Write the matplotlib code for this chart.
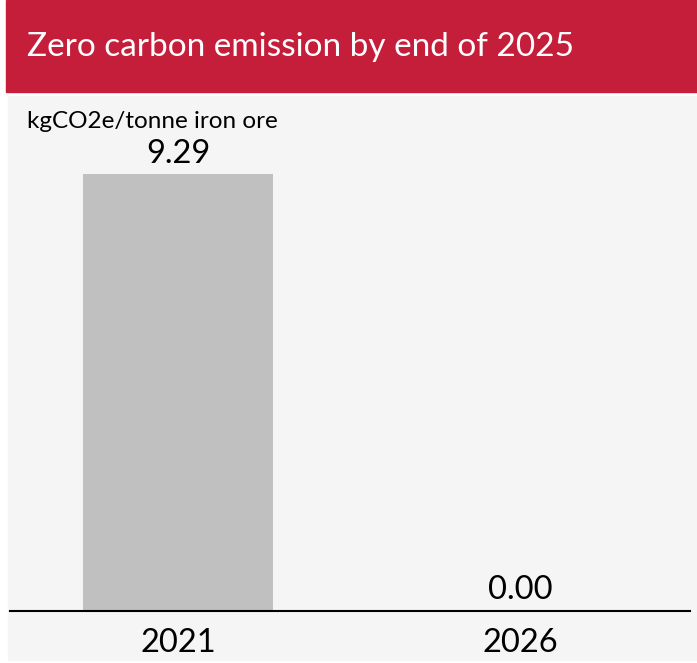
import matplotlib.pyplot as plt
from matplotlib.patches import Rectangle

plt.rcParams['font.family'] = ['Lato', 'DejaVu Sans']

years = ['2021', '2026']
values = [9.29, 0.00]
title = 'Zero carbon emission by end of 2025'
unit = 'kgCO2e/tonne iron ore'

W, H = 697, 663
fig = plt.figure(figsize=(W / 100, H / 100), dpi=100)
fig.patch.set_facecolor('white')

def fx(px):
    return px / W

def fy(py):
    return 1 - py / H

# header band and panel behind the axes
fig.patches.append(Rectangle((fx(6), fy(92)), fx(W - 6), 92 / H,
                             transform=fig.transFigure, color='#C41E3A', zorder=-10))
fig.patches.append(Rectangle((fx(8), fy(660)), fx(W - 8), (660 - 96) / H,
                             transform=fig.transFigure, color='#F5F5F5', zorder=-10))
fig.text(fx(27), fy(47), title, color='white', fontsize=24, va='center', ha='left')
fig.text(fx(27), fy(121), unit, color='black', fontsize=17.5, va='center', ha='left')

ax = fig.add_axes([fx(10), fy(611), fx(680), (611 - 96) / H])
ax.set_facecolor('none')
ax.set_zorder(5)
x = range(len(years))
bars = ax.bar(x, values, width=0.553, color='#C0C0C0')
for xi, v in zip(x, values):
    ax.annotate(f'{v:.2f}', (xi, v), xytext=(0, 4), textcoords='offset points',
                ha='center', va='bottom', fontsize=23.5)
ax.set_xlim(-0.491, 1.497)
ax.set_ylim(0, 10.95)
ax.set_xticks(list(x))
ax.set_xticklabels(years, fontsize=23.5)
ax.tick_params(axis='x', length=0, pad=12)
ax.set_yticks([])
for s in ['top', 'right', 'left']:
    ax.spines[s].set_visible(False)
ax.spines['bottom'].set_linewidth(1.5)

fig.savefig('out.png', dpi=100)
